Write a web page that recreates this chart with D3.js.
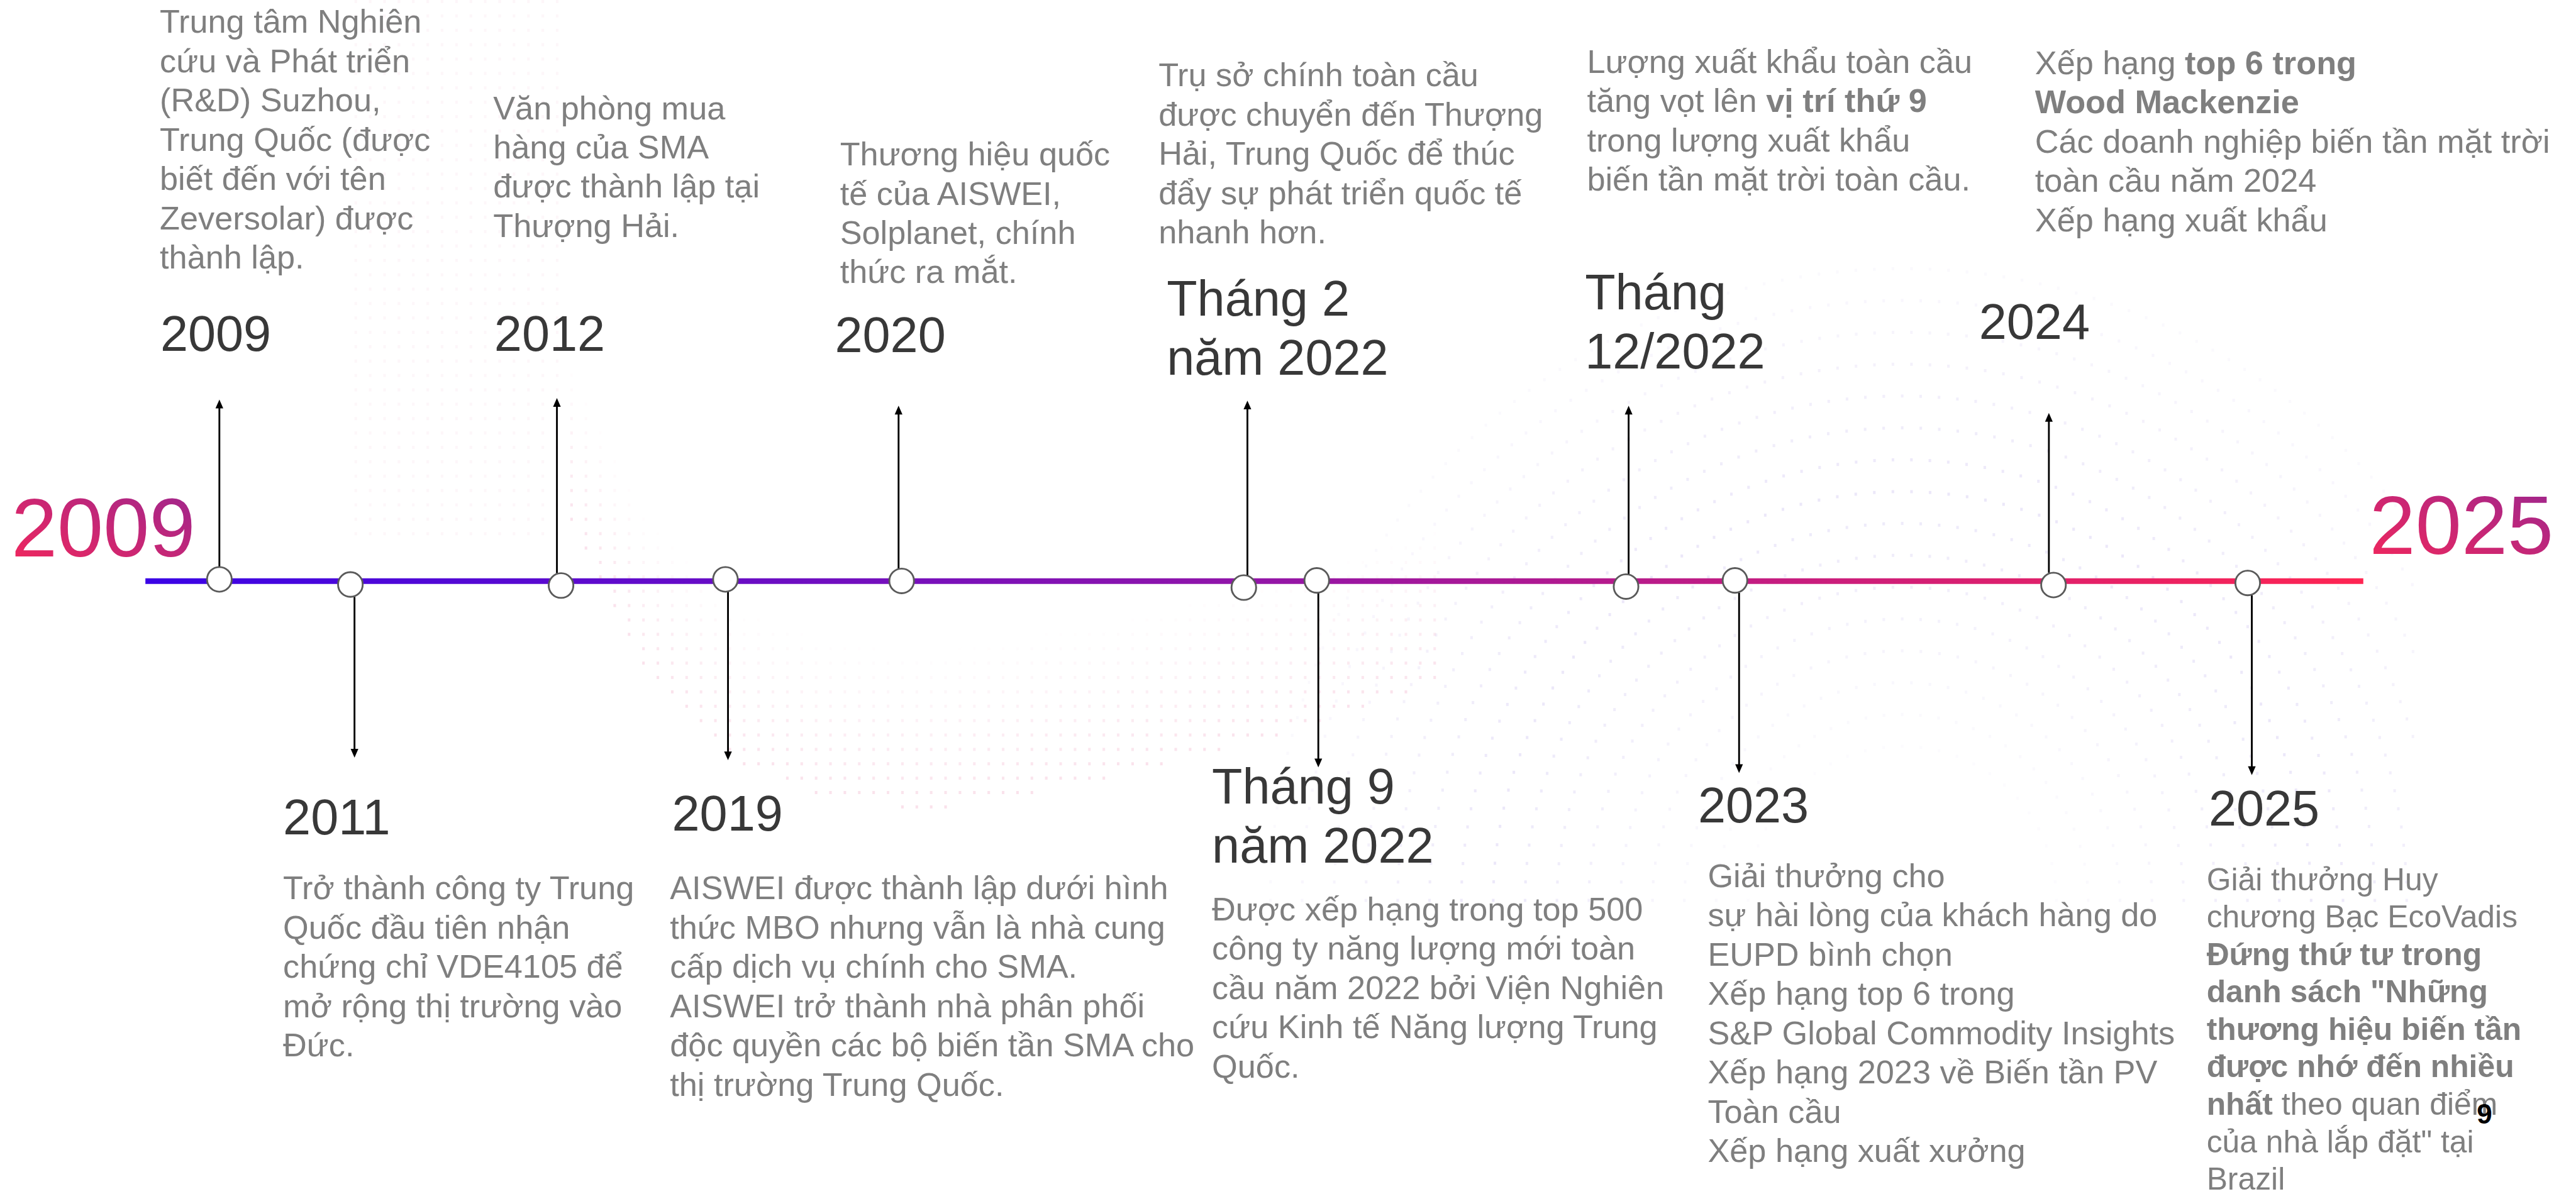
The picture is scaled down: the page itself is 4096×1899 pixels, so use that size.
<!DOCTYPE html>
<html>
<head>
<meta charset="utf-8">
<script src="https://cdn.jsdelivr.net/npm/d3@7"></script>
<style>
  html, body { margin: 0; padding: 0; background: #fff; overflow: hidden; }
  svg { display: block; }
</style>
</head>
<body>
<div id="chart"></div>
<script>
// Timeline events, left to right along the line
const labels = ["2009", "2011", "2012", "2019", "2020", "Tháng 2\nnăm 2022", "Tháng 9\nnăm 2022",
  "Tháng\n12/2022", "2023", "2024", "2025"];
const sides = ["up", "down", "up", "down", "up", "up", "down", "up", "down", "up", "down"];

// Node positions (reference pixels)
const nodeX = [427, 682, 1092, 1412, 1755, 2421, 2563, 3165, 3377, 3997, 4375];
const nodeY = [1128, 1138, 1140, 1128, 1131, 1144, 1130, 1142, 1130, 1139, 1135];
const stemX = [427, 690, 1084, 1417, 1749, 2428, 2566, 3170, 3385, 3988, 4383];
const stemTip = [778, 1475, 775, 1480, 790, 780, 1494, 790, 1505, 804, 1509];

// Description texts (**...** = bold)
const descriptions = [
  ["Trung tâm Nghiên", "cứu và Phát triển", "(R&D) Suzhou,", "Trung Quốc (được", "biết đến với tên",
    "Zeversolar) được", "thành lập."],
  ["Trở thành công ty Trung", "Quốc đầu tiên nhận", "chứng chỉ VDE4105 để", "mở rộng thị trường vào", "Đức."],
  ["Văn phòng mua", "hàng của SMA", "được thành lập tại", "Thượng Hải."],
  ["AISWEI được thành lập dưới hình", "thức MBO nhưng vẫn là nhà cung", "cấp dịch vụ chính cho SMA.",
    "AISWEI trở thành nhà phân phối", "độc quyền các bộ biến tần SMA cho", "thị trường Trung Quốc."],
  ["Thương hiệu quốc", "tế của AISWEI,", "Solplanet, chính", "thức ra mắt."],
  ["Trụ sở chính toàn cầu", "được chuyển đến Thượng", "Hải, Trung Quốc để thúc", "đẩy sự phát triển quốc tế",
    "nhanh hơn."],
  ["Được xếp hạng trong top 500", "công ty năng lượng mới toàn", "cầu năm 2022 bởi Viện Nghiên",
    "cứu Kinh tế Năng lượng Trung", "Quốc."],
  ["Lượng xuất khẩu toàn cầu", "tăng vọt lên **vị trí thứ 9**", "trong lượng xuất khẩu",
    "biến tần mặt trời toàn cầu."],
  ["Giải thưởng cho", "sự hài lòng của khách hàng do", "EUPD bình chọn", "Xếp hạng top 6 trong",
    "S&P Global Commodity Insights", "Xếp hạng 2023 về Biến tần PV", "Toàn cầu", "Xếp hạng xuất xưởng"],
  ["Xếp hạng **top 6 trong**", "**Wood Mackenzie**", "Các doanh nghiệp biến tần mặt trời",
    "toàn cầu năm 2024", "Xếp hạng xuất khẩu"],
  ["Giải thưởng Huy", "chương Bạc EcoVadis", "**Đứng thứ tư trong**", "**danh sách \"Những**",
    "**thương hiệu biến tần**", "**được nhớ đến nhiều**", "**nhất** theo quan điểm",
    "của nhà lắp đặt\" tại", "Brazil"]
];

// Text block placement (reference pixels, first baseline)
const labelX = [312, 551, 962, 1308, 1625, 2271, 2359, 3085, 3305, 3852, 4299];
const labelY = [683, 1624, 683, 1617, 686, 615, 1565, 602, 1601, 660, 1607];
const descX = [311, 551, 960, 1304, 1635, 2255, 2359, 3089, 3324, 3961, 4295];
const descY = [64, 1751, 232, 1751, 322, 168, 1792, 142, 1727, 144, 1733];
const descSize = [64, 64, 64, 64, 64, 64, 64, 64, 64, 64, 61];

const startYear = "2009";
const endYear = "2025";
const pageNumber = "9";

// faint background texture: pink ridge and lavender domes (reference pixels)
const ridgeX = [1100, 1250, 1420, 1600, 1800, 2140, 2500, 2800];
const ridgeY = [1000, 1300, 1480, 1547, 1575, 1518, 1430, 1330];

const refW = 5014, refH = 2325;
const W = 4096, H = 1899;
const k = W / refW;
const font = "'Liberation Sans', Arial, Helvetica, sans-serif";

const svg = d3.select("#chart").append("svg")
  .attr("width", W)
  .attr("height", H)
  .attr("viewBox", [0, 0, W, H]);

const defs = svg.append("defs");

// gradient for the main line
const lineGrad = defs.append("linearGradient")
  .attr("id", "lineGrad")
  .attr("gradientUnits", "userSpaceOnUse")
  .attr("x1", 283).attr("x2", 4600).attr("y1", 0).attr("y2", 0);
lineGrad.selectAll("stop")
  .data([["0%", "#3a03e6"], ["50%", "#9215a8"], ["100%", "#ff2552"]])
  .join("stop")
  .attr("offset", (d) => d[0])
  .attr("stop-color", (d) => d[1]);

// gradient for the big years
const yearGrad = defs.append("linearGradient")
  .attr("id", "yearGrad")
  .attr("x1", 0).attr("y1", 1).attr("x2", 1).attr("y2", 0);
yearGrad.selectAll("stop")
  .data([["0%", "#f5275a"], ["100%", "#9a2690"]])
  .join("stop")
  .attr("offset", (d) => d[0])
  .attr("stop-color", (d) => d[1]);

const g = svg.append("g").attr("transform", `scale(${k})`);

// background dots
const bg = g.append("g");
const ridge = d3.scaleLinear().domain(ridgeX).range(ridgeY).clamp(true);
const pinkDots = [];
for (let x = 690; x <= 2800; x += 28) {
  for (let y = 0; y <= 1700; y += 28) {
    let a = 0;
    if (x >= 1100) {
      const d = ridge(x) - y;
      if (d >= 0 && d <= 320) a = 1 - d / 320;
    } else if (y < 1050) {
      a = 0.3;
    }
    if (a > 0.05) pinkDots.push({ x, y, a });
  }
}
bg.selectAll("rect.pink")
  .data(pinkDots)
  .join("rect")
  .attr("class", "pink")
  .attr("x", (d) => d.x).attr("y", (d) => d.y)
  .attr("width", 5).attr("height", 6)
  .attr("fill", "#f0aac6")
  .attr("opacity", (d) => d.a * 0.35);

const lavDots = [];
const cx = 3700, cy = 1750;
for (let R = 300; R <= 1250; R += 62) {
  const n = Math.round(Math.PI * R / 36);
  for (let i = 0; i <= n; i++) {
    const th = Math.PI + (i / n) * Math.PI;
    const x = cx + R * Math.cos(th);
    const y = cy + R * Math.sin(th);
    if (x < 2300 || x > 4700) continue;
    lavDots.push({ x, y, a: 1 - Math.abs(R - 800) / 600 });
  }
}
bg.selectAll("rect.lav")
  .data(lavDots)
  .join("rect")
  .attr("class", "lav")
  .attr("x", (d) => d.x).attr("y", (d) => d.y)
  .attr("width", 5).attr("height", 6)
  .attr("fill", "#cfc6f0")
  .attr("opacity", (d) => d.a * 0.4);

// main line
g.append("line")
  .attr("x1", 283).attr("x2", 4600)
  .attr("y1", 1131.5).attr("y2", 1131.5)
  .attr("stroke", "url(#lineGrad)")
  .attr("stroke-width", 11);

// big start / end years
g.append("text")
  .attr("x", 22).attr("y", 1083)
  .attr("font-family", font)
  .attr("font-size", 161)
  .attr("fill", "url(#yearGrad)")
  .text(startYear);

g.append("text")
  .attr("x", 4612).attr("y", 1079)
  .attr("font-family", font)
  .attr("font-size", 161)
  .attr("fill", "url(#yearGrad)")
  .text(endYear);

const events = labels.map((label, i) => ({
  label,
  side: sides[i],
  x: nodeX[i], y: nodeY[i],
  sx: stemX[i], tip: stemTip[i],
  desc: descriptions[i],
  lx: labelX[i], ly: labelY[i],
  dx: descX[i], dy: descY[i], ds: descSize[i]
}));

const r = 24;

// stems with arrow heads
const stems = g.append("g").selectAll("g")
  .data(events)
  .join("g");

stems.append("line")
  .attr("x1", (d) => d.sx).attr("x2", (d) => d.sx)
  .attr("y1", (d) => d.side === "up" ? d.y - r : d.y + r)
  .attr("y2", (d) => d.side === "up" ? d.tip + 10 : d.tip - 10)
  .attr("stroke", "#000")
  .attr("stroke-width", 3.5);

stems.append("path")
  .attr("d", (d) => {
    const dir = d.side === "up" ? 1 : -1;
    return `M${d.sx},${d.tip}L${d.sx - 7.5},${d.tip + dir * 17}L${d.sx + 7.5},${d.tip + dir * 17}Z`;
  })
  .attr("fill", "#000");

// nodes
g.append("g").selectAll("circle")
  .data(events)
  .join("circle")
  .attr("cx", (d) => d.x)
  .attr("cy", (d) => d.y)
  .attr("r", r)
  .attr("fill", "#fff")
  .attr("stroke", "#5a5a5a")
  .attr("stroke-width", 3.5);

// year labels
const lbl = g.append("g").selectAll("text")
  .data(events)
  .join("text")
  .attr("font-family", font)
  .attr("font-size", 97)
  .attr("fill", "#383838");

lbl.selectAll("tspan")
  .data((d) => d.label.split("\n").map((t, j) => ({ t, j, d })))
  .join("tspan")
  .attr("x", (p) => p.d.lx)
  .attr("y", (p) => p.d.ly + p.j * 115)
  .text((p) => p.t);

// descriptions
const desc = g.append("g").selectAll("g")
  .data(events)
  .join("g");

desc.each(function (d) {
  const lh = d.ds * 1.195;
  const block = d3.select(this);
  d.desc.forEach((line, j) => {
    const t = block.append("text")
      .attr("x", d.dx)
      .attr("y", d.dy + j * lh)
      .attr("font-family", font)
      .attr("font-size", d.ds)
      .attr("fill", "#7f7f7f");
    line.split("**").forEach((seg, n) => {
      if (!seg) return;
      t.append("tspan")
        .attr("font-weight", n % 2 ? "bold" : null)
        .text(seg);
    });
  });
});

// page number
g.append("text")
  .attr("x", 4821).attr("y", 2188)
  .attr("font-family", font)
  .attr("font-size", 54)
  .attr("font-weight", "bold")
  .attr("fill", "#000")
  .text(pageNumber);
</script>
</body>
</html>
